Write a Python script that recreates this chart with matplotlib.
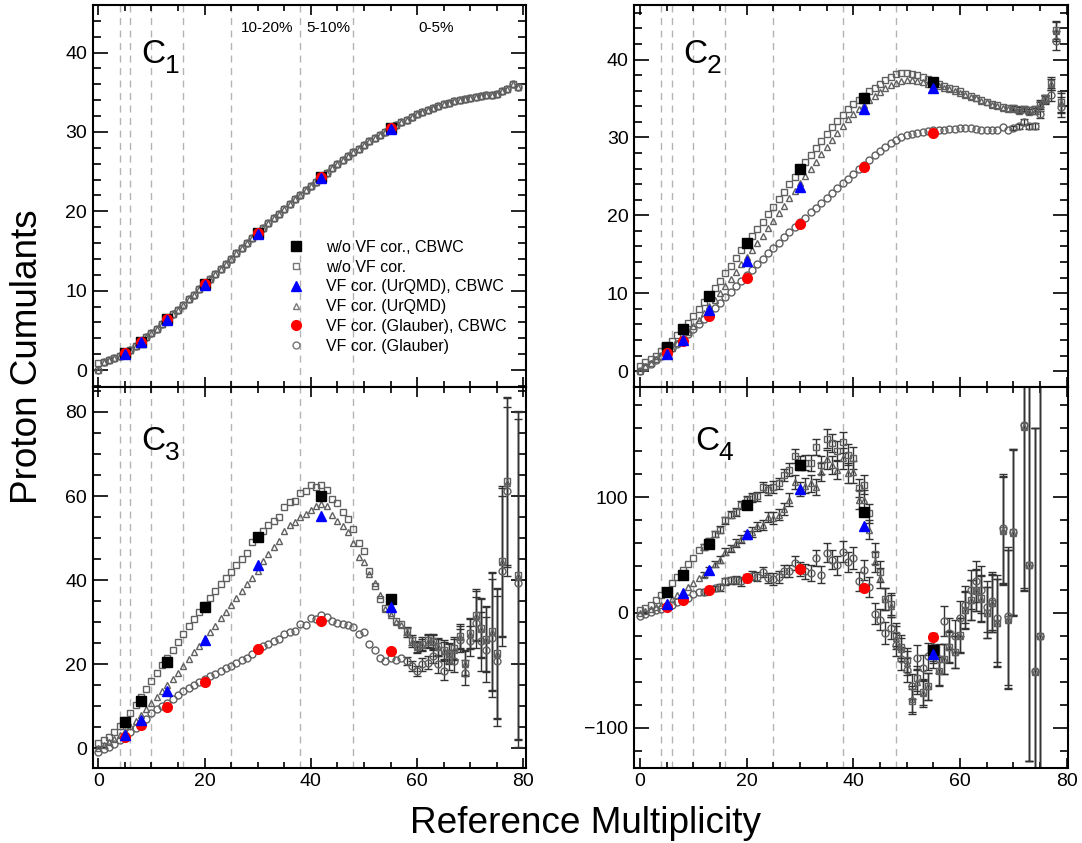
import numpy as np
import matplotlib
matplotlib.use("Agg")
import matplotlib.pyplot as plt
from matplotlib.ticker import MultipleLocator, NullFormatter
from matplotlib.lines import Line2D
from matplotlib.transforms import blended_transform_factory

plt.rcParams['font.family'] = ['Liberation Sans', 'DejaVu Sans']
plt.rcParams['axes.unicode_minus'] = True

nan = np.nan
mult = list(range(80))
cbwc_mult = [5, 8, 13, 20, 30, 42, 55]
cent_edges = [4, 6, 10, 16, 25, 38, 48]
cent_labels = ['10-20%', '5-10%', '0-5%']
cent_label_x = [31.7, 43.2, 63.5]

# ---------------- C1 ----------------
c1_raw = [0.9, 1.05, 1.22, 1.47, 1.8, 2.1, 2.55, 3.05, 3.57, 4.1, 4.65, 5.2, 5.8, 6.4, 7.0, 7.6,
          8.25, 8.9, 9.5, 10.15, 10.8, 11.45, 12.1, 12.75, 13.4, 14.05, 14.7, 15.35, 16.0, 16.65,
          17.3, 17.9, 18.5, 19.1, 19.7, 20.3, 20.9, 21.5, 22.1, 22.65, 23.2, 23.75, 24.3, 24.85,
          25.4, 25.95, 26.45, 26.95, 27.45, 27.9, 28.35, 28.8, 29.25, 29.65, 30.05, 30.45, 30.85,
          31.2, 31.55, 31.9, 32.2, 32.5, 32.8, 33.05, 33.3, 33.5, 33.7, 33.85, 34.0, 34.15, 34.3,
          34.4, 34.5, 34.6, 34.7, 34.8, 35.2, 35.4, 36.1, 35.7]
c1_urqmd = [0.0, 1.05, 1.22, 1.47, 1.8, 2.1, 2.55, 3.05, 3.57, 4.1, 4.65, 5.2, 5.8, 6.4, 7.0, 7.6,
            8.25, 8.9, 9.5, 10.15, 10.8, 11.45, 12.1, 12.75, 13.4, 14.05, 14.7, 15.35, 16.0, 16.65,
            17.3, 17.9, 18.5, 19.1, 19.7, 20.3, 20.9, 21.5, 22.1, 22.65, 23.2, 23.75, 24.3, 24.85,
            25.4, 25.95, 26.45, 26.95, 27.45, 27.9, 28.35, 28.8, 29.25, 29.65, 30.05, 30.45, 30.85,
            31.2, 31.55, 31.9, 32.2, 32.5, 32.8, 33.05, 33.3, 33.5, 33.7, 33.85, 34.0, 34.15, 34.3,
            34.4, 34.5, 34.6, 34.7, 34.8, 35.2, 35.4, 36.1, 35.7]
c1_glauber = [0.0, 1.05, 1.22, 1.47, 1.8, 2.1, 2.55, 3.05, 3.57, 4.1, 4.65, 5.2, 5.8, 6.4, 7.0, 7.6,
              8.25, 8.9, 9.5, 10.15, 10.8, 11.45, 12.1, 12.75, 13.4, 14.05, 14.7, 15.35, 16.0, 16.65,
              17.3, 17.9, 18.5, 19.1, 19.7, 20.3, 20.9, 21.5, 22.1, 22.65, 23.2, 23.75, 24.3, 24.85,
              25.4, 25.95, 26.45, 26.95, 27.45, 27.9, 28.35, 28.8, 29.25, 29.65, 30.05, 30.45, 30.85,
              31.2, 31.55, 31.9, 32.2, 32.5, 32.8, 33.05, 33.3, 33.5, 33.7, 33.85, 34.0, 34.15, 34.3,
              34.4, 34.5, 34.6, 34.7, 34.8, 35.2, 35.4, 36.1, 35.7]
c1_err = [0] * 80
c1_raw_cbwc = [2.1, 3.57, 6.4, 10.8, 17.3, 24.3, 30.5]
c1_urqmd_cbwc = [2.0, 3.5, 6.3, 10.7, 17.2, 24.2, 30.4]
c1_glauber_cbwc = [2.1, 3.57, 6.4, 10.8, 17.3, 24.3, 30.5]

# ---------------- C2 ----------------
c2_raw = [0.7, 1.2, 1.6, 2.0, 2.6, 3.1, 3.9, 4.6, 5.4, 6.2, 7.1, 8.0, 8.9, 9.8, 10.7, 11.6, 12.6,
          13.5, 14.5, 15.5, 16.4, 17.4, 18.3, 19.2, 20.2, 21.1, 22.1, 23.0, 24.0, 24.9, 25.9, 26.8,
          27.7, 28.6, 29.5, 30.4, 31.3, 32.1, 32.9, 33.6, 34.3, 34.8, 35.3, 35.9, 36.4, 36.9, 37.4,
          37.8, 38.1, 38.3, 38.3, 38.2, 38.0, 37.8, 37.5, 37.2, 36.9, 36.6, 36.4, 36.2, 35.9, 35.6,
          35.3, 35.1, 34.8, 34.6, 34.3, 34.1, 33.9, 33.8, 33.8, 33.6, 33.7, 33.5, 33.6, 34.3, 35.0,
          37.0, 43.8, 34.6]
c2_urqmd = [0.0, 0.6, 1.0, 1.5, 2.0, 2.5, 3.0, 3.6, 4.3, 5.0, 5.8, 6.6, 7.4, 8.3, 9.1, 10.0, 10.9,
            11.8, 12.7, 13.7, 14.6, 15.5, 16.5, 17.4, 18.4, 19.3, 20.3, 21.2, 22.2, 23.1, 24.1, 25.0,
            26.0, 26.9, 27.9, 28.8, 29.7, 30.6, 31.5, 32.3, 33.0, 33.6, 34.2, 34.8, 35.3, 35.8, 36.3,
            36.7, 37.0, 37.3, 37.4, 37.4, 37.3, 37.1, 36.8, 36.5, 36.6, 36.4, 36.2, 36.0, 35.7, 35.4,
            35.2, 35.0, 34.7, 34.5, 34.2, 34.0, 33.8, 33.6, 33.7, 33.4, 33.6, 33.3, 33.4, 34.1, 34.9,
            36.8, 43.6, 34.4]
c2_glauber = [0.0, 0.5, 0.9, 1.4, 1.9, 2.4, 3.0, 3.5, 4.1, 4.8, 5.4, 6.1, 6.7, 7.4, 8.1, 8.8, 9.5,
              10.2, 10.9, 11.6, 12.3, 13.0, 13.7, 14.4, 15.1, 15.8, 16.5, 17.2, 17.9, 18.5, 19.1,
              19.7, 20.4, 21.0, 21.6, 22.2, 22.9, 23.5, 24.1, 24.7, 25.3, 25.9, 26.5, 27.1, 27.7,
              28.3, 28.8, 29.3, 29.7, 30.0, 30.3, 30.5, 30.6, 30.7, 30.8, 30.9, 31.0, 31.0, 31.1,
              31.1, 31.2, 31.2, 31.2, 31.1, 31.0, 30.9, 30.9, 31.0, 31.3, 31.0, 31.2, 31.4, 32.0,
              31.4, 31.5, 33.0, 34.8, 35.4, 42.4, 33.9]
c2_err = [0] * 70 + [0.3, 0.3, 0.35, 0.35, 0.4, 0.45, 0.5, 0.7, 1.2, 1.3]
c2_raw_cbwc = [3.1, 5.4, 9.7, 16.4, 25.9, 35.1, 37.1]
c2_urqmd_cbwc = [2.2, 4.0, 7.9, 14.1, 23.6, 33.6, 36.3]
c2_glauber_cbwc = [2.3, 3.9, 7.1, 12.0, 18.9, 26.2, 30.6]

# ---------------- C3 ----------------
c3_raw = [1.3, 1.9, 2.8, 3.9, 5.3, 6.8, 8.5, 10.3, 12.1, 14.1, 16.0, 18.0, 19.8, 21.6, 23.5, 25.3,
          27.2, 29.0, 30.7, 32.5, 34.1, 35.8, 37.4, 39.0, 40.6, 42.0, 43.6, 45.1, 46.5, 49.0, 50.4,
          51.6, 53.0, 54.0, 54.9, 57.3, 58.6, 58.9, 60.8, 61.1, 62.6, 62.2, 62.7, 61.5, 59.4, 58.3,
          56.2, 54.5, 52.2, 48.9, 46.9, 42.1, 38.6, 35.4, 33.4, 32.1, 30.3, 29.6, 27.9, 25.7, 24.3,
          24.9, 25.7, 25.5, 24.3, 23.5, 22.7, 23.8, 26.7, 20.4, 27.5, 31.8, 28.7, 26.1, 27.9, 22.7,
          44.5, 63.5, nan, 41.3]
c3_urqmd = [0.2, 0.8, 1.5, 2.3, 3.2, 4.2, 5.3, 6.6, 7.9, 9.3, 10.7, 12.1, 13.6, 15.0, 16.5, 18.0,
            19.6, 21.2, 22.8, 24.4, 26.0, 27.6, 29.2, 30.9, 32.5, 34.1, 35.8, 37.4, 39.0, 40.6,
            42.2, 44.6, 46.3, 47.8, 49.4, 51.8, 53.0, 53.9, 55.0, 55.7, 56.6, 57.6, 58.0, 57.6,
            55.4, 54.1, 52.8, 51.4, 48.9, 45.5, 44.2, 41.4, 39.3, 36.4, 33.1, 31.6, 30.0, 29.3,
            27.6, 25.4, 24.0, 24.6, 25.4, 25.2, 24.0, 23.2, 22.4, 23.5, 26.4, 20.1, 27.2, 31.5,
            28.4, 25.8, 27.6, 22.4, 44.2, 63.2, nan, 41.0]
c3_glauber = [-0.8, -0.2, 0.4, 1.1, 2.0, 2.9, 3.8, 4.8, 5.7, 7.1, 8.5, 9.3, 10.1, 10.9, 11.8, 12.8,
              13.6, 14.4, 15.1, 15.8, 16.4, 17.1, 17.8, 18.4, 19.0, 19.6, 20.2, 20.9, 21.5, 22.4,
              23.5, 24.3, 24.9, 25.5, 26.0, 27.3, 27.6, 27.9, 29.6, 29.3, 30.9, 30.7, 31.6, 31.2,
              30.3, 29.9, 29.5, 29.3, 28.9, 27.1, 27.7, 24.7, 23.5, 21.5, 20.8, 21.5, 20.9, 21.5,
              20.8, 19.6, 18.4, 20.0, 20.4, 22.0, 20.0, 18.5, 21.1, 20.8, 25.7, 18.0, 25.5, 29.9,
              25.5, 23.5, 26.3, 20.8, 42.1, 61.1, nan, 39.4]
c3_err = [0] * 58 + [1.0, 1.2, 1.3, 1.5, 1.6, 1.8, 2.0, 2.2, 2.4, 2.6, 2.8, 3.0, 3.6, 6.0, 7.0,
                     7.7, 14.0, 15.5, 17.8, 20.0, 0, 39.0]
c3_raw_cbwc = [6.3, 11.2, 20.5, 33.6, 50.2, 60.0, 35.6]
c3_urqmd_cbwc = [3.1, 6.7, 13.6, 25.7, 43.5, 55.2, 33.7]
c3_glauber_cbwc = [2.8, 5.5, 9.9, 15.8, 23.6, 30.2, 23.2]

# ---------------- C4 ----------------
c4_raw = [2.3, 3.8, 6.7, 11.0, 15.3, 18.5, 26.0, 31.0, 37.0, 42.0, 47.0, 54.0, 57.0, 62.0, 68.0,
          72.0, 80.0, 85.0, 87.0, 93.0, 98.0, 100.0, 101.0, 109.0, 106.5, 109.0, 112.0, 119.5,
          124.0, 135.5, 130.0, 130.0, 130.0, 143.5, 128.0, 151.0, 147.0, 140.0, 147.6, 137.0,
          134.0, 108.0, 111.0, 86.0, 51.0, 35.6, 11.6, 7.5, -19.4, -29.5, -41.0, -77.0, -57.0,
          -69.0, -64.0, -32.0, -51.0, -40.0, -29.5, -34.0, -19.4, 2.3, 11.0, 19.7, 12.4, 0.0,
          8.1, -8.7, 71.8, -5.8, 69.5, nan, 161.5, 41.4, -51.2, -20.3, nan, nan, nan, nan]
c4_urqmd = [0.0, 1.0, 3.0, 5.0, 7.0, 8.5, 12.0, 15.0, 18.0, 22.0, 25.5, 30.0, 33.0, 37.0, 42.0,
            46.0, 53.0, 56.0, 60.0, 64.0, 67.0, 70.0, 75.0, 76.0, 83.0, 82.0, 85.0, 90.0, 98.0,
            113.0, 107.0, 110.0, 112.0, 109.0, 122.0, 133.0, 128.0, 124.0, 134.0, 121.0, 122.0,
            98.0, 98.0, 72.0, 44.0, 30.0, 12.0, 6.0, -22.0, -32.0, -44.0, -75.0, -60.0, -70.0,
            -64.0, -36.0, -50.0, -40.0, -30.0, -34.0, -20.0, 2.0, 11.0, 19.0, 12.0, 0.0, 8.0,
            -9.0, 71.0, -6.0, 69.0, nan, 161.0, 41.0, -51.0, -20.0, nan, nan, nan, nan]
c4_glauber = [-3.0, -1.0, 0.5, 2.0, 3.5, 5.0, 7.0, 9.0, 11.0, 13.0, 16.0, 18.0, 18.0, 20.0, 21.0,
              22.0, 27.0, 28.0, 28.0, 27.0, 30.0, 32.0, 31.0, 35.0, 30.0, 29.0, 31.0, 36.0, 36.0,
              43.0, 38.0, 36.0, 34.0, 47.0, 33.0, 52.0, 46.0, 41.0, 53.0, 44.0, 47.0, 27.0, 37.0,
              22.0, -1.0, -6.0, -18.0, -13.0, -28.0, -40.0, -50.0, -64.0, -39.0, -48.0, -38.0,
              -30.0, -40.0, -7.0, -18.0, -20.0, -5.0, 7.0, 20.0, 27.0, 20.0, 5.0, 10.0, -5.0, 73.0,
              -3.0, 70.0, nan, 163.0, 41.0, -51.0, -20.0, nan, nan, nan, nan]
c4_err = [0, 0, 0, 0, 0, 0, 0, 0, 0, 0, 0, 0, 2.5, 2.5, 2.5, 3.0, 3.0, 3.0, 3.5, 3.5, 3.5, 4.0,
          4.0, 4.5, 4.5, 5.0, 5.0, 5.5, 5.5, 6.0, 6.0, 6.5, 7.0, 7.0, 7.5, 8.0, 8.0, 8.5, 9.0, 9.0,
          9.5, 8.0, 8.5, 8.5, 9.0, 9.0, 9.5, 9.5, 10.0, 10.0, 10.5, 11.0, 11.0, 11.5, 11.5, 12.0,
          12.5, 13.0, 13.5, 14.0, 15.0, 16.0, 17.0, 18.0, 20.0, 22.0, 25.0, 38.0, 47.0, 60.0, 72.0,
          0, 142.0, 170.0, 211.0, 250.0, 0, 0, 0, 0]
c4_raw_cbwc = [18.2, 33.0, 59.6, 93.5, 128.2, 87.1, -32.4]
c4_urqmd_cbwc = [7.5, 16.8, 37.0, 68.0, 107.1, 75.3, -35.9]
c4_glauber_cbwc = [5.2, 11.0, 19.7, 29.8, 37.9, 21.7, -20.8]

legend_labels = ['w/o VF cor., CBWC', 'w/o VF cor.', 'VF cor. (UrQMD), CBWC',
                 'VF cor. (UrQMD)', 'VF cor. (Glauber), CBWC', 'VF cor. (Glauber)']

panels = [
    dict(sub='1', raw=c1_raw, urq=c1_urqmd, gla=c1_glauber, err=c1_err,
         rawc=c1_raw_cbwc, urqc=c1_urqmd_cbwc, glac=c1_glauber_cbwc,
         pos=[0.0857, 0.5413, 0.4005, 0.4528], ylim=(-2.1, 46.0), major=10, minor=2,
         xlim=(-1.05, 80.5), xlabels=False, cx=0.113, cy=0.848),
    dict(sub='2', raw=c2_raw, urq=c2_urqmd, gla=c2_glauber, err=c2_err,
         rawc=c2_raw_cbwc, urqc=c2_urqmd_cbwc, glac=c2_glauber_cbwc,
         pos=[0.5860, 0.5413, 0.4008, 0.4528], ylim=(-2.0, 47.0), major=10, minor=2,
         xlim=(-1.1, 80.2), xlabels=False, cx=0.113, cy=0.848),
    dict(sub='3', raw=c3_raw, urq=c3_urqmd, gla=c3_glauber, err=c3_err,
         rawc=c3_raw_cbwc, urqc=c3_urqmd_cbwc, glac=c3_glauber_cbwc,
         pos=[0.0857, 0.0893, 0.4005, 0.4520], ylim=(-4.6, 86.0), major=20, minor=5,
         xlim=(-1.05, 80.5), xlabels=True, cx=0.113, cy=0.834),
    dict(sub='4', raw=c4_raw, urq=c4_urqmd, gla=c4_glauber, err=c4_err,
         rawc=c4_raw_cbwc, urqc=c4_urqmd_cbwc, glac=c4_glauber_cbwc,
         pos=[0.5860, 0.0893, 0.4008, 0.4520], ylim=(-134.6, 196.0), major=100, minor=20,
         xlim=(-1.1, 80.2), xlabels=True, cx=0.14, cy=0.834),
]

fig = plt.figure(figsize=(10.82, 8.43), dpi=100)
open_col = '#606060'
err_col = '#333333'

for i, p in enumerate(panels):
    ax = fig.add_axes(p['pos'])
    ax.set_xlim(*p['xlim'])
    ax.set_ylim(*p['ylim'])
    for e in cent_edges:
        ax.axvline(e, color='#b4b4b4', lw=1.0, ls=(0, (5, 4)), zorder=0)
    err = np.array(p['err'], dtype=float)
    err[err == 0] = np.nan
    for key, mk, ms in (('raw', 's', 4.6), ('urq', '^', 5.0), ('gla', 'o', 5.0)):
        ax.errorbar(mult, p[key], yerr=err, fmt=mk, ms=ms, mfc='none', mec=open_col, mew=1.0,
                    ecolor=err_col, elinewidth=1.0, capsize=3, capthick=1.0, zorder=2)
    ax.plot(cbwc_mult, p['rawc'], 's', ms=7.0, color='black', zorder=4)
    ax.plot(cbwc_mult, p['glac'], 'o', ms=7.0, color='#ff0000', zorder=5)
    ax.plot(cbwc_mult, p['urqc'], '^', ms=7.5, color='#0000ff', zorder=6)

    ax.xaxis.set_major_locator(MultipleLocator(20))
    ax.xaxis.set_minor_locator(MultipleLocator(5))
    ax.yaxis.set_major_locator(MultipleLocator(p['major']))
    ax.yaxis.set_minor_locator(MultipleLocator(p['minor']))
    ax.tick_params(axis='both', which='both', direction='in', top=True, right=True,
                   labelsize=14, width=1.2, colors='black')
    ax.tick_params(axis='y', which='major', length=11, pad=4)
    ax.tick_params(axis='y', which='minor', length=5.5)
    ax.tick_params(axis='x', which='major', length=7, pad=4)
    ax.tick_params(axis='x', which='minor', length=4)
    if not p['xlabels']:
        ax.xaxis.set_major_formatter(NullFormatter())
    for s in ax.spines.values():
        s.set_linewidth(1.5)

    ax.text(p['cx'], p['cy'], 'C', transform=ax.transAxes, fontsize=24, ha='left', va='baseline')
    ax.annotate(p['sub'], xy=(p['cx'], p['cy']), xycoords='axes fraction', xytext=(17, -7),
                textcoords='offset points', fontsize=19, ha='left', va='baseline')

    if i == 0:
        tr = blended_transform_factory(ax.transData, ax.transAxes)
        for lab, lx in zip(cent_labels, cent_label_x):
            ax.text(lx, 0.94, lab, transform=tr, fontsize=11, ha='center', va='center')
        handles = [
            Line2D([], [], ls='none', marker='s', ms=7.0, color='black'),
            Line2D([], [], ls='none', marker='s', ms=4.6, mfc='none', mec='#777777', mew=1.0),
            Line2D([], [], ls='none', marker='^', ms=7.5, color='#0000ff'),
            Line2D([], [], ls='none', marker='^', ms=5.0, mfc='none', mec='#777777', mew=1.0),
            Line2D([], [], ls='none', marker='o', ms=7.0, color='#ff0000'),
            Line2D([], [], ls='none', marker='o', ms=5.0, mfc='none', mec='#777777', mew=1.0),
        ]
        ax.legend(handles, legend_labels, loc='upper left', bbox_to_anchor=(0.451, 0.385),
                  frameon=False, fontsize=11.5, handlelength=1.0, handletextpad=1.375,
                  labelspacing=0.3, borderpad=0, borderaxespad=0)

fig.text(586 / 1082, 1 - 833 / 843, 'Reference Multiplicity', fontsize=26.6,
         ha='center', va='baseline')
fig.text(37 / 1082, 1 - 356.5 / 843, 'Proton Cumulants', fontsize=26.6, rotation=90,
         rotation_mode='anchor', ha='center', va='baseline')

fig.savefig('out.png', dpi=100)
